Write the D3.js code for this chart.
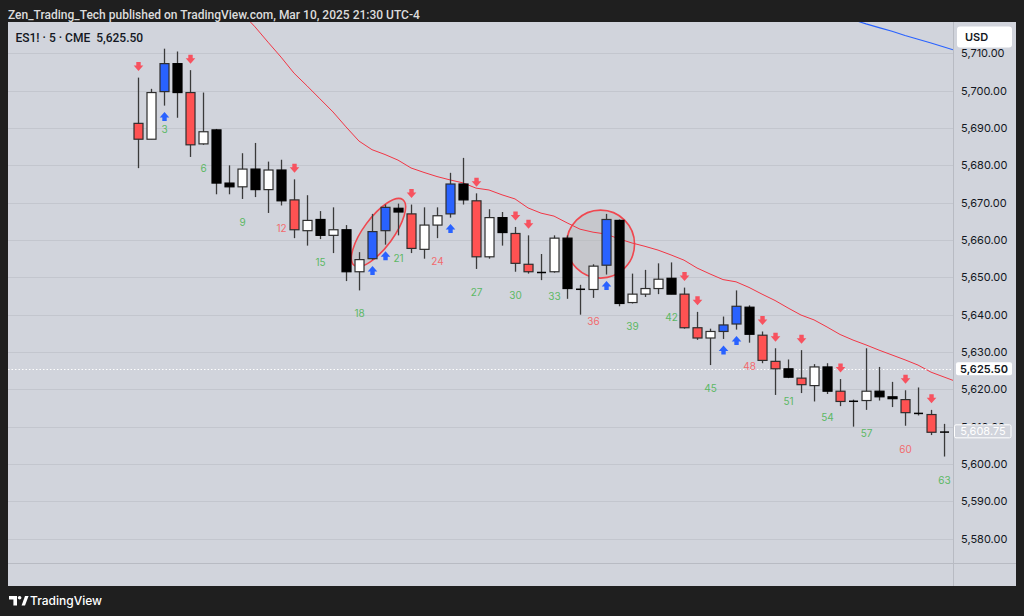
<!DOCTYPE html>
<html><head><meta charset="utf-8">
<script src="https://cdn.jsdelivr.net/npm/d3@7"></script>
<style>
html,body{margin:0;padding:0;background:#1f1f1f;}
svg{display:block;font-family:Inter,"Noto Sans",sans-serif;}
</style>
</head><body>
<svg id="chart" width="1024" height="616"></svg>
<script>
// ---------- DATA ----------
const barNumbers = d3.range(1, 64);
const opens  = [5691.25,5687,5699.75,5707.25,5699.5,5685.75,5689.5,5675.25,5674.25,5679,5673.5,5678.75,5670.75,5662.5,5665.5,5661.25,5662.75,5651.5,5655,5662.5,5668.5,5667,5657.5,5664,5667,5675,5670.5,5655.5,5666,5661.75,5653.5,5651.5,5651.5,5660.5,5647,5646.75,5653.25,5665.25,5643.25,5645.5,5647,5649.75,5645.5,5636.5,5633.75,5635.5,5637.5,5642,5634.5,5627.5,5625.5,5623,5621,5626,5619.5,5617,5617,5619.5,5618,5617.25,5613.75,5613.25,5608.75];
const highs  = [5703.5,5700.5,5711.25,5710.5,5705.5,5699.5,5689.75,5680,5683.25,5686,5681,5681.5,5676.25,5672,5667.75,5668.75,5664,5656.75,5667,5669.5,5669.75,5669.5,5668.75,5668.75,5678,5682,5672.5,5668.25,5667.5,5663.5,5661.25,5656.25,5661.25,5661.25,5648,5653.5,5667,5665.5,5651,5652,5653.75,5654,5647.25,5640.75,5636.25,5639.5,5646.5,5642.5,5635.5,5631,5628,5630.5,5626.75,5627,5622.75,5617.25,5631,5626,5622,5619.75,5620.5,5614.5,5610.75];
const lows   = [5679.25,5687,5696,5692.75,5682.25,5685.5,5672.25,5672.25,5671,5671.5,5667.25,5669.25,5660.5,5658.5,5660.25,5656.5,5649,5646.5,5654.75,5658.75,5661.25,5656.5,5655,5660.5,5666,5669.5,5652.25,5655,5658.5,5651.5,5651,5649.25,5651.25,5644.25,5640,5644.5,5650.75,5642.25,5643,5644.75,5645.5,5645.5,5636.25,5633.25,5626.5,5633.5,5636,5632.5,5627,5618.5,5623,5619,5616.75,5618.75,5615.5,5610,5614.5,5617,5615.25,5610.25,5613,5607.75,5602];
const closes = [5687,5699.5,5707.25,5699.5,5685.5,5689,5675.25,5674.25,5679,5673.5,5678.75,5670.5,5662.75,5665.25,5661.25,5662.75,5651.5,5654.75,5662.25,5668.75,5667.5,5657.75,5664,5666.5,5675,5670.75,5655.5,5666,5662,5653.75,5651.5,5651.5,5660.5,5647,5647,5653,5665.5,5643,5645.5,5647,5649.5,5645.5,5636.5,5633.75,5635.5,5637.25,5642.25,5634.75,5627.75,5625.5,5623.25,5621.25,5626,5619.5,5616.75,5617,5619.5,5618,5617.5,5613.75,5613.5,5608.5,5608.75];
// bar colour class: R red, W white, B blue, K black
const barColors = ["R","W","B","K","R","W","K","K","W","K","W","K","R","W","K","W","K","W","B","B","K","R","W","W","B","K","R","W","K","R","R","K","W","K","K","W","B","K","W","W","W","K","R","R","W","B","B","K","R","R","K","R","W","K","R","K","W","K","K","R","K","R","K"];

const emaBars = d3.range(9, 64);
const emaValues = [5720.8,5717.1,5713.0,5709.0,5704.7,5701.3,5697.8,5694.3,5690.3,5686.5,5684.2,5682.9,5681.4,5679.3,5678.1,5677.0,5676.1,5675.3,5673.9,5673.4,5672.1,5671.0,5668.6,5667.2,5666.4,5664.6,5662.9,5662.1,5661.6,5660.3,5659.2,5658.3,5657.3,5656.0,5654.6,5652.5,5650.9,5649.4,5648.8,5647.3,5645.5,5643.8,5641.8,5639.9,5638.6,5636.7,5634.7,5633.2,5631.9,5630.5,5629.2,5627.9,5626.5,5624.6,5623.3];
const slowBars = d3.range(56, 64);
const slowValues = [5719.0,5717.9,5716.9,5715.9,5714.8,5713.8,5712.8,5711.7];

const sellSignalBars = [1,5,13,22,27,30,31,43,44,49,50,52,55,60,62];
const buySignalBars  = [3,19,20,25,37,46,47];
const countBars = d3.range(3, 64, 3);

const priceTicks = d3.range(5580, 5711, 10);
const timeTickBars   = [-8,1,7,13,19,25,31,37,43,49,55,61];
const timeTickLabels = ["15:30","10","10:00","10:30","11:00","11:30","12:00","12:30","13:00","13:30","14:00","14:30"];

const lastPrice = 5625.50;
const lastClose = 5608.75;
// annotations (bar index, price)
const ellipseAxis = [[17.68,5653.4],[21.32,5670.6]];
const circleCenter = [36.58,5658.9];

const titleText = "Zen_Trading_Tech published on TradingView.com, Mar 10, 2025 21:30 UTC-4";
const legendText = "ES1! \u00b7 5 \u00b7 CME\u00a0\u00a05,625.50";

// ---------- LAYOUT ----------
const svg = d3.select("#chart");
const panel = {x0:8, x1:1016, y0:22, y1:586};
const plot = {x0:8, x1:953, y0:22, y1:563};
const BG = "#d1d4dc", GRID = "#c3c6ce", TEXT = "#131722";

const x = d3.scaleLinear().domain([-9, 63.69]).range([plot.x0, plot.x1]);
const y = d3.scaleLinear().domain([5718.4, 5573.48]).range([plot.y0, plot.y1]);

svg.append("rect").attr("width",1024).attr("height",616).attr("fill","#1f1f1f");
svg.append("rect").attr("x",panel.x0).attr("y",panel.y0)
  .attr("width",panel.x1-panel.x0).attr("height",panel.y1-panel.y0).attr("fill",BG);

svg.append("defs").append("clipPath").attr("id","clip")
  .append("rect").attr("x",plot.x0).attr("y",plot.y0)
  .attr("width",plot.x1-plot.x0).attr("height",plot.y1-plot.y0);

// title
svg.append("text").attr("x",8).attr("y",19).attr("fill","#dcdcdc")
  .attr("font-family","Roboto,sans-serif")
  .attr("font-size",12).attr("font-weight",500).text(titleText);

// grid
const g = svg.append("g").attr("clip-path","url(#clip)");
g.selectAll(".grid").data(priceTicks).join("line")
  .attr("x1",plot.x0).attr("x2",plot.x1)
  .attr("y1",d=>Math.round(y(d))+0.5).attr("y2",d=>Math.round(y(d))+0.5)
  .attr("stroke",GRID).attr("stroke-width",1);

// annotations
const e0 = [x(ellipseAxis[0][0]), y(ellipseAxis[0][1])];
const e1 = [x(ellipseAxis[1][0]), y(ellipseAxis[1][1])];
const ecx=(e0[0]+e1[0])/2, ecy=(e0[1]+e1[1])/2;
const ea = Math.hypot(e1[0]-e0[0], e1[1]-e0[1])/2;
const eang = Math.atan2(e1[1]-e0[1], e1[0]-e0[0])*180/Math.PI;
g.append("ellipse").attr("cx",0).attr("cy",0).attr("rx",ea+1).attr("ry",15)
  .attr("transform",`translate(${ecx},${ecy}) rotate(${eang})`)
  .attr("fill","rgba(185,185,185,0.45)").attr("stroke","#f0474f").attr("stroke-width",1.6);
g.append("circle").attr("cx",x(circleCenter[0])).attr("cy",y(circleCenter[1])).attr("r",34)
  .attr("fill","rgba(185,185,185,0.45)").attr("stroke","#f0474f").attr("stroke-width",1.6);

// moving averages
function extendLine(bars, vals){
  const pts = bars.map((b,i)=>[x(b), y(vals[i])]);
  const n = pts.length;
  const [xa,ya]=pts[n-2], [xb,yb]=pts[n-1];
  const t = (plot.x1 - xb)/(xb - xa);
  pts.push([plot.x1, yb + (yb-ya)*t]);
  return pts;
}
const line = d3.line();
g.append("path").attr("d",line(extendLine(emaBars, emaValues)))
  .attr("fill","none").attr("stroke","#f23645").attr("stroke-width",1);
g.append("path").attr("d",line(extendLine(slowBars, slowValues)))
  .attr("fill","none").attr("stroke","#2962ff").attr("stroke-width",1.1);

// last price dotted line
g.append("line").attr("x1",plot.x0).attr("x2",plot.x1)
  .attr("y1",Math.round(y(lastPrice))+0.5).attr("y2",Math.round(y(lastPrice))+0.5)
  .attr("stroke","#ffffff").attr("stroke-dasharray","1.5,2").attr("stroke-width",1);

// candles
const fillOf = {R:"#ff5252", W:"#ffffff", B:"#2962ff", K:"#000000"};
const candles = g.selectAll(".c").data(barNumbers).join("g");
candles.append("line")
  .attr("x1",d=>x(d)+0.5).attr("x2",d=>x(d)+0.5)
  .attr("y1",(d,i)=>y(highs[i])).attr("y2",(d,i)=>y(lows[i]))
  .attr("stroke","#3a3a3a").attr("stroke-width",1.3);
candles.append("rect")
  .attr("x",d=>x(d)-4)
  .attr("y",(d,i)=>y(Math.max(opens[i],closes[i])))
  .attr("width",9)
  .attr("height",(d,i)=>Math.max(1.5, Math.abs(y(opens[i])-y(closes[i]))))
  .attr("fill",(d,i)=>fillOf[barColors[i]])
  .attr("stroke",(d,i)=>barColors[i]==="K"?"#000":"#2e2e2e")
  .attr("stroke-width",(d,i)=>Math.abs(opens[i]-closes[i])<0.3?0:1.2);

// signal arrows
function arrowDown(cx, cy, col){
  return g.append("path").attr("d",`M${cx-2.2},${cy-4.5} h4.4 v3.5 h2.6 l-4.8,5.5 l-4.8,-5.5 h2.6 z`).attr("fill",col);
}
function arrowUp(cx, cy, col){
  return g.append("path").attr("d",`M${cx-2.2},${cy+4.5} h4.4 v-3.5 h2.6 l-4.8,-5.5 l-4.8,5.5 h2.6 z`).attr("fill",col);
}
sellSignalBars.forEach(b=>arrowDown(x(b)+0.5, y(highs[b-1])-11, "#f7525f"));
buySignalBars.forEach(b=>arrowUp(x(b)+0.5, y(lows[b-1])+11, "#2962ff"));

// bar counts
g.selectAll(".cnt").data(countBars).join("text")
  .attr("x",d=>x(d)+0.5).attr("y",d=>y(lows[d-1])+27)
  .attr("text-anchor","middle").attr("font-size",10)
  .attr("fill",d=>d%12===0?"#f26b6e":"#5cb864")
  .text(d=>d);

// axes frame lines
svg.append("line").attr("x1",plot.x1+0.5).attr("x2",plot.x1+0.5).attr("y1",panel.y0).attr("y2",panel.y1)
  .attr("stroke","#b8bbc3");
svg.append("line").attr("x1",panel.x0).attr("x2",panel.x1).attr("y1",plot.y1+0.5).attr("y2",plot.y1+0.5)
  .attr("stroke","#b8bbc3");

// price axis
const fmt = d3.format(",.2f");
const yAxis = d3.axisRight(y).tickValues(priceTicks).tickSize(0).tickPadding(8).tickFormat(fmt);
const ya = svg.append("g").attr("transform",`translate(${plot.x1},0)`).call(yAxis);
ya.select(".domain").remove();
ya.selectAll("text").attr("font-size",11).attr("fill",TEXT).attr("font-family","Inter,sans-serif");

// time axis
const xAxis = d3.axisBottom(x).tickValues(timeTickBars).tickSize(0).tickPadding(8)
  .tickFormat((d,i)=>timeTickLabels[i]);
const xa = svg.append("g").attr("transform",`translate(0,${plot.y1})`).call(xAxis);
xa.select(".domain").remove();
xa.selectAll("text").attr("font-size",11).attr("fill",TEXT).attr("font-family","Inter,sans-serif")
  .attr("font-weight",(d,i)=>timeTickLabels[i]==="10"?700:400);
svg.append("defs").append("clipPath").attr("id","clipx").append("rect")
  .attr("x",panel.x0).attr("y",plot.y1).attr("width",plot.x1-panel.x0).attr("height",panel.y1-plot.y1);
xa.attr("clip-path","url(#clipx)");

// price boxes
const lpY = y(lastPrice);
svg.append("rect").attr("x",956).attr("y",lpY-6.5).attr("width",56).attr("height",13).attr("rx",2)
  .attr("fill","#ffffff");
svg.append("text").attr("x",984).attr("y",lpY+4).attr("text-anchor","middle")
  .attr("font-size",11).attr("font-weight",600).attr("fill",TEXT).text(fmt(lastPrice));
const lcY = y(lastClose);
svg.append("rect").attr("x",954.5).attr("y",lcY-6.5).attr("width",56.5).attr("height",13).attr("rx",1.5)
  .attr("fill",BG).attr("stroke","#ffffff").attr("stroke-width",1);
svg.append("text").attr("x",983).attr("y",lcY+4).attr("text-anchor","middle")
  .attr("font-size",11).attr("fill","#ffffff").text(fmt(lastClose));

// USD box
svg.append("rect").attr("x",957).attr("y",26.5).attr("width",55).attr("height",21).attr("rx",3).attr("fill","#ffffff");
svg.append("text").attr("x",965).attr("y",41).attr("font-size",11).attr("font-weight",600).attr("fill",TEXT).text("USD");

// legend
svg.append("text").attr("x",15.5).attr("y",41.5).attr("font-size",12).attr("font-weight",500)
  .attr("font-family","Roboto,sans-serif")
  .attr("fill",TEXT).text(legendText);

// footer logo
const lg = svg.append("g").attr("fill","#ffffff");
lg.append("path").attr("d","M9,596 h8 v9.5 h-3.6 v-6 h-4.4 z");
lg.append("circle").attr("cx",19.6).attr("cy",597.8).attr("r",1.8);
lg.append("path").attr("d","M21.6,605.5 l3.4,-9.5 h3.6 l-3.6,9.5 z");
svg.append("text").attr("x",30).attr("y",605).attr("font-size",12).attr("font-weight",500)
  .attr("fill","#ffffff").text("TradingView");
</script>
</body></html>
